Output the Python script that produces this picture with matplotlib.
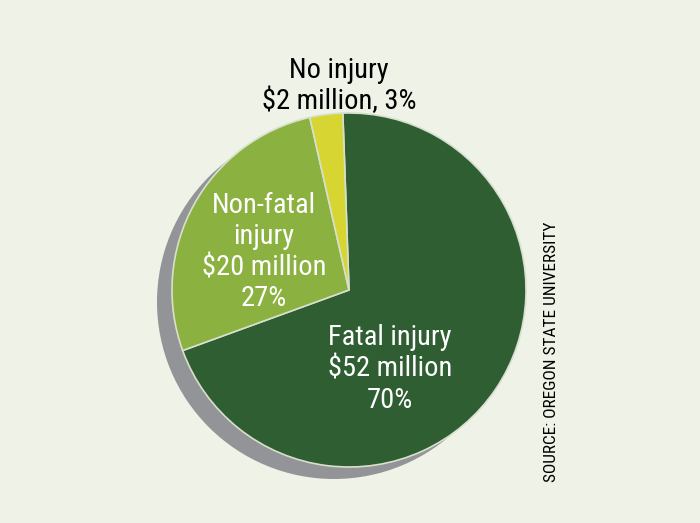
import matplotlib
matplotlib.use('Agg')
import matplotlib.pyplot as plt
from matplotlib.patches import Circle
from matplotlib import font_manager

# Data
categories = ['Fatal injury', 'Non-fatal injury', 'No injury']
costs_musd = [52, 20, 2]
shares_pct = [70, 27, 3]
colors = ['#2f5e33', '#8bb140', '#d6d531']

BG = '#eef2e7'
names = {f.name for f in font_manager.fontManager.ttflist}
FONT = 'Roboto'
for cand in ['Roboto Condensed', 'Liberation Sans Narrow', 'Open Sans Condensed']:
    if cand in names:
        FONT = cand
        break

fig = plt.figure(figsize=(7, 5.23), dpi=100, facecolor=BG)
ax = fig.add_axes([0, 0, 1, 1])

cx, cy, r = 349, 290, 177

# drop shadow
ax.add_patch(Circle((cx - 15, cy + 12), r, facecolor='#929497',
                    edgecolor='none', zorder=1))

# y axis is inverted below, so counterclock=True comes out clockwise on screen
ax.pie(shares_pct, colors=colors, startangle=-92, counterclock=True,
       center=(cx, cy), radius=r, frame=True,
       wedgeprops=dict(edgecolor='#d8e0cc', linewidth=1.2, zorder=2))
ax.set_xlim(0, 700)
ax.set_ylim(523, 0)
ax.set_aspect('equal')
ax.axis('off')

fs = 20.5
ls = 1.2
ax.text(339, 86, 'No injury\n$2 million, 3%', ha='center', va='center',
        fontsize=fs, color='black', family=FONT, linespacing=ls)
ax.text(264, 252, 'Non-fatal\ninjury\n$20 million\n27%', ha='center',
        va='center', fontsize=fs, color='white', family=FONT, linespacing=ls)
ax.text(390, 369, 'Fatal injury\n$52 million\n70%', ha='center',
        va='center', fontsize=fs, color='white', family=FONT, linespacing=ls)

ax.text(551, 352, 'SOURCE: OREGON STATE UNIVERSITY', rotation=90,
        ha='center', va='center', fontsize=12.4, color='black', family=FONT)

fig.savefig('out.png', dpi=100, facecolor=BG)
